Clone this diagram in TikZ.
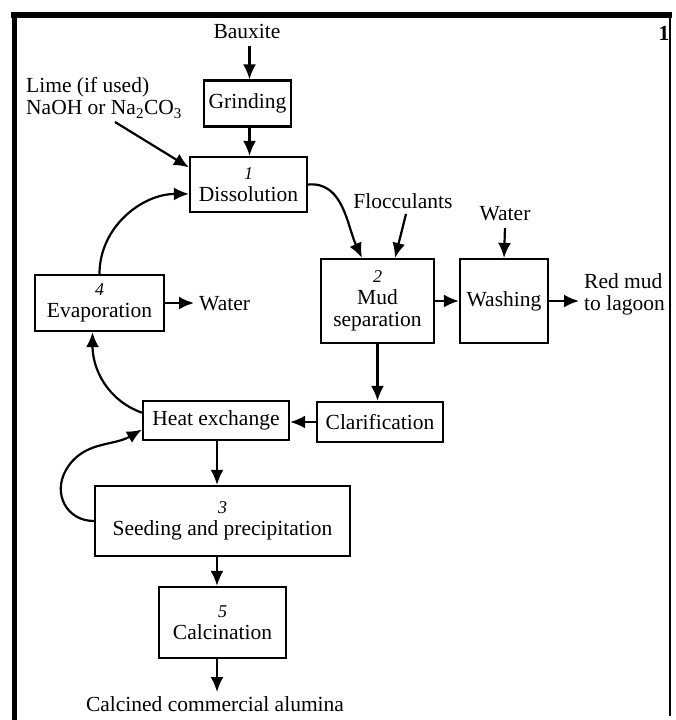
\documentclass[tikz,border=0pt]{standalone}
\usepackage{fontspec}
\setmainfont{Liberation Serif}
\usetikzlibrary{arrows.meta}
\begin{document}
\begin{tikzpicture}[x=1pt,y=-1pt,
  every node/.style={font=\fontsize{21.5}{22}\selectfont},
  pbox/.style={draw,line width=2.2pt,inner sep=0pt,align=center},
  lbl/.style={inner sep=0pt,align=center},
  flow/.style={line width=2.2pt,-{Latex[length=15pt,width=13pt]}}]
\useasboundingbox (0,0) rectangle (675,720);
% frame
\draw[line width=5pt] (14,12) -- (14,720);
\draw[line width=6pt] (11,15) -- (672,15);
\draw[line width=1.6pt] (670,18) -- (670,716);
\node[lbl,font=\fontsize{21.5}{22}\selectfont\bfseries] (fig) at (664,33) {1};
% boxes
\node[pbox,minimum width=87pt,minimum height=46pt] (grind) at (247.5,103.5) {Grinding};
\node[pbox,minimum width=117pt,minimum height=55pt] (diss) at (248.5,184.5) {{\fontsize{18}{21}\selectfont\itshape 1}\\Dissolution};
\node[pbox,minimum width=129pt,minimum height=56pt] (evap) at (99.5,303) {{\fontsize{18}{21}\selectfont\itshape 4}\\Evaporation};
\node[pbox,minimum width=113pt,minimum height=84pt] (mud) at (377.5,301) {{\fontsize{18}{21}\selectfont\itshape 2}\\Mud\\separation};
\node[pbox,minimum width=88pt,minimum height=84pt] (wash) at (504,301) {Washing};
\node[pbox,minimum width=126pt,minimum height=40pt] (clar) at (380,422) {Clarification};
\node[pbox,minimum width=146pt,minimum height=39pt] (heat) at (216,420.5) {Heat exchange};
\node[pbox,minimum width=255pt,minimum height=70pt] (seed) at (222.5,521) {{\fontsize{18}{21}\selectfont\itshape 3}\\Seeding and precipitation};
\node[pbox,minimum width=127pt,minimum height=71pt] (calc) at (222.5,622.5) {{\fontsize{18}{21}\selectfont\itshape 5}\\Calcination};
% labels
\node[lbl] (baux) at (247,31) {Bauxite};
\node[lbl,anchor=west,align=left] (lime) at (26,98) {Lime (if used)\\NaOH or Na\textsubscript{2}CO\textsubscript{3}};
\node[lbl,anchor=west] (wat1) at (199,304) {Water};
\node[lbl] (floc) at (403,201) {Flocculants};
\node[lbl] (wat2) at (505,214) {Water};
\node[lbl,anchor=west,align=left] (red) at (584,294) {Red mud\\to lagoon};
\node[lbl] (alum) at (215,704) {Calcined commercial alumina};
% free ends
\coordinate (bauxA) at (249.5,46);
\coordinate (limeA) at (115,122);
\coordinate (wat1A) at (194,303);
\coordinate (flocA) at (406,214);
\coordinate (wat2A) at (505,228);
\coordinate (redA) at (579,301);
\coordinate (alumA) at (217,692);
% connectors
\draw[flow] (bauxA) -- (bauxA |- grind.north);
\draw[flow] ([xshift=2pt]grind.south) -- ([xshift=1pt]diss.north);
\draw[flow] (limeA) -- (diss.164);
\draw[flow] (evap.north) to[out=90,in=180] (diss.189);
\draw[flow] (evap.east) -- (wat1A);
\draw[flow] (diss.east) to[out=5,in=115] ([xshift=-15.5pt]mud.north);
\draw[flow] (flocA) -- ([xshift=17.5pt]mud.north);
\draw[flow] (wat2A) -- (wash.north);
\draw[flow] (mud.east) -- (wash.west);
\draw[flow] (wash.east) -- (redA);
\draw[flow] (mud.south) -- (mud.south |- clar.north);
\draw[flow] (clar.west) -- (clar.west -| heat.east);
\draw[flow] (heat.174) to[out=160,in=-90] ([xshift=-7pt]evap.south);
\draw[flow] ([xshift=1pt]heat.south) -- ([xshift=1pt]heat.south |- seed.north);
\draw[flow] (seed.west) to[out=180,in=-120,looseness=1.2] (66,470) to[out=60,in=210] (heat.187);
\draw[flow] ([xshift=1pt]heat.south |- seed.south) -- ([xshift=1pt]heat.south |- calc.north);
\draw[flow] ([xshift=1pt]heat.south |- calc.south) -- (alumA);
\end{tikzpicture}
\end{document}
